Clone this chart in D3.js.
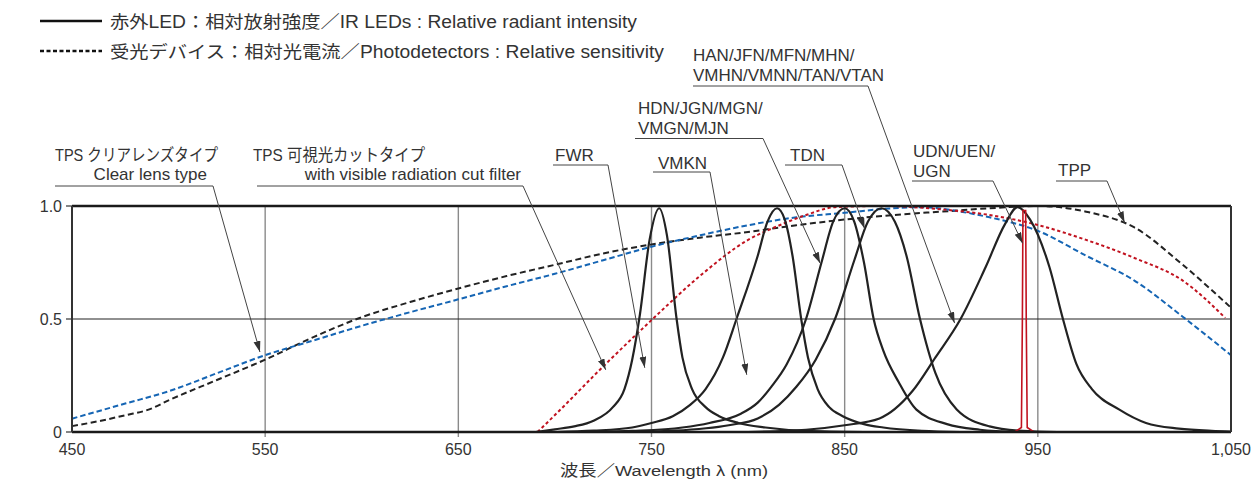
<!DOCTYPE html>
<html>
<head>
<meta charset="utf-8">
<script src="https://cdn.jsdelivr.net/npm/d3@7"></script>
<style>
  body { margin: 0; background: #fff; }
  text { font-family: "Liberation Sans", "Noto Sans CJK JP", sans-serif; fill: #333; }
</style>
</head>
<body>
<script>
(function(){

// ---- data ----
var xTicks = [450, 550, 650, 750, 850, 950, 1050];
var xTickLabels = ["450", "550", "650", "750", "850", "950", "1,050"];
var yTicks = [0, 0.5, 1];
var yTickLabels = ["0", "0.5", "1.0"];

// photodetectors (dashed)
var tppSens = [[450,0.026],[465,0.05],[478,0.075],[490,0.1],[500,0.14],[525,0.23],[550,0.32],[575,0.42],[600,0.508],[625,0.575],[650,0.635],[675,0.69],[700,0.74],[725,0.79],[750,0.83],[775,0.86],[800,0.885],[825,0.915],[850,0.94],[875,0.96],[900,0.975],[925,0.99],[950,1.0],[975,0.975],[1000,0.905],[1025,0.74],[1050,0.55]];
var tpsClearSens = [[450,0.059],[478,0.127],[500,0.18],[525,0.26],[550,0.34],[575,0.405],[600,0.47],[625,0.53],[650,0.587],[675,0.645],[700,0.7],[725,0.76],[750,0.82],[775,0.87],[800,0.915],[825,0.95],[850,0.97],[875,0.99],[890,0.995],[910,0.975],[925,0.95],[950,0.89],[975,0.78],[1000,0.67],[1025,0.51],[1050,0.34]];
var tpsCutSens = [[691,0],[700,0.075],[725,0.29],[750,0.495],[775,0.69],[800,0.85],[815,0.91],[830,0.96],[845,0.995],[870,1.0],[900,0.985],[925,0.96],[950,0.916],[975,0.85],[1000,0.77],[1025,0.67],[1047,0.505]];

// IR LEDs (solid)
var fwrLed = [[690,0],[700,0.012],[710,0.025],[720,0.05],[730,0.11],[736,0.19],[740,0.32],[744,0.52],[749,0.85],[754,0.99],[758,0.87],[763,0.5],[766,0.33],[771,0.19],[778,0.11],[785,0.07],[795,0.04],[809,0.02],[830,0.005],[860,0]];
var vmknLed = [[700,0],[720,0.006],[740,0.02],[750,0.04],[761,0.07],[770,0.12],[778,0.19],[787,0.33],[794,0.5],[805,0.78],[810,0.93],[815,0.99],[819,0.94],[823,0.78],[827.5,0.5],[831,0.33],[836,0.19],[842,0.11],[849,0.07],[860,0.035],[870,0.02],[890,0.005],[910,0]];
var hdnLed = [[720,0],[740,0.005],[766,0.02],[780,0.04],[796,0.08],[805,0.13],[812,0.2],[820,0.3],[830,0.5],[838,0.75],[844,0.93],[850,0.99],[855,0.93],[860,0.75],[865,0.5],[870,0.36],[878,0.22],[887,0.1],[903,0.035],[920,0.01],[940,0]];
var tdnLed = [[740,0],[760,0.005],[790,0.03],[805,0.06],[816,0.12],[825,0.2],[835,0.32],[845,0.5],[855,0.76],[862,0.93],[869,0.99],[876,0.93],[882,0.78],[889,0.5],[897,0.26],[908,0.1],[925,0.025],[942,0.005],[960,0]];
var hanLed = [[800,0],[830,0.01],[850,0.03],[868,0.06],[885,0.18],[897,0.33],[910,0.5],[923,0.73],[933,0.92],[939.5,0.995],[946,0.94],[956,0.73],[963,0.5],[970,0.3],[978,0.19],[992,0.1],[1006,0.04],[1023,0.015],[1040,0.005],[1050,0.002]];
var udnLed = [[915,0],[938,0],[941.5,0.02],[942,0.5],[942.3,0.98],[943.7,0.98],[944,0.5],[944.5,0.02],[948,0],[975,0]];

// callout labels and the point (nm, value) each arrow touches
var calloutText = [
  ["TPS クリアレンズタイプ", "Clear lens type"],
  ["TPS 可視光カットタイプ", "with visible radiation cut filter"],
  ["FWR"],
  ["VMKN"],
  ["HDN/JGN/MGN/", "VMGN/MJN"],
  ["TDN"],
  ["HAN/JFN/MFN/MHN/", "VMHN/VMNN/TAN/VTAN"],
  ["UDN/UEN/", "UGN"],
  ["TPP"]
];
var calloutTarget = [[547.3,0.354],[726.3,0.275],[746.5,0.284],[799.3,0.253],[837.3,0.747],[860.3,0.9],[906.9,0.482],[942.1,0.835],[994.9,0.927]];

// ---- layout ----
var width = 1255, height = 479;
var left = 72, right = 1231, top = 206, bottom = 432;

// text position per callout: x of each line, anchor, fitted width (or null), first baseline, line step, underline span and y
var calloutLayout = [
  {xs:[55, 207], anchor:["start", "end"], len:[163, null], y:161, dy:19, ux:[55, 213], uy:186},
  {xs:[253, 521], anchor:["start", "end"], len:[172, null], y:161, dy:19, ux:[257, 523], uy:186},
  {xs:[555], anchor:["start"], len:[null], y:161, dy:19, ux:[553, 608], uy:165},
  {xs:[658], anchor:["start"], len:[null], y:169, dy:19, ux:[653, 710], uy:172},
  {xs:[638, 638], anchor:["start", "start"], len:[null, null], y:114, dy:19.5, ux:[635, 763], uy:138.5},
  {xs:[790], anchor:["start"], len:[null], y:161, dy:19, ux:[785, 842], uy:165},
  {xs:[693, 693], anchor:["start", "start"], len:[null, null], y:60.5, dy:20, ux:[693, 868], uy:86},
  {xs:[913, 913], anchor:["start", "start"], len:[null, null], y:157, dy:19.5, ux:[912, 993], uy:181},
  {xs:[1058], anchor:["start"], len:[null], y:175.5, dy:19, ux:[1056, 1107], uy:181}
];

var svg = d3.select("body").append("svg")
    .attr("width", width)
    .attr("height", height);

var x = d3.scaleLinear().domain([450, 1050]).range([left, right]);
var y = d3.scaleLinear().domain([0, 1]).range([bottom, top]);

var defs = svg.append("defs");
defs.append("marker")
    .attr("id", "arrow")
    .attr("markerUnits", "userSpaceOnUse")
    .attr("markerWidth", 12).attr("markerHeight", 8)
    .attr("refX", 11).attr("refY", 3.5)
    .attr("orient", "auto")
  .append("path")
    .attr("d", "M0,0 L11,3.5 L0,7 Z")
    .attr("fill", "#333");

//vertical grid
svg.selectAll(".vgrid")
    .data(xTicks.slice(1, -1))
    .enter().append("line")
    .attr("x1", function(d){ return x(d); })
    .attr("x2", function(d){ return x(d); })
    .attr("y1", top).attr("y2", bottom + 5)
    .attr("stroke", "#8a8a8a").attr("stroke-width", 1.4);

//half line
svg.append("line")
    .attr("x1", left).attr("x2", right)
    .attr("y1", y(0.5)).attr("y2", y(0.5))
    .attr("stroke", "#222").attr("stroke-width", 1.1);

//y ticks
svg.selectAll(".ytick")
    .data(yTicks)
    .enter().append("line")
    .attr("x1", left - 6).attr("x2", left)
    .attr("y1", function(d){ return y(d); })
    .attr("y2", function(d){ return y(d); })
    .attr("stroke", "#333").attr("stroke-width", 1.2);

svg.selectAll(".ylab")
    .data(yTicks)
    .enter().append("text")
    .attr("x", left - 10)
    .attr("y", function(d){ return y(d) + 5.5; })
    .attr("text-anchor", "end")
    .attr("font-size", 16)
    .text(function(d, i){ return yTickLabels[i]; });

svg.selectAll(".xlab")
    .data(xTicks)
    .enter().append("text")
    .attr("x", function(d){ return x(d); })
    .attr("y", bottom + 23)
    .attr("text-anchor", "middle")
    .attr("font-size", 16)
    .text(function(d, i){ return xTickLabels[i]; });

svg.append("text")
    .attr("x", 560).attr("y", 476)
    .attr("font-size", 15.5)
    .attr("textLength", 208)
    .attr("lengthAdjust", "spacingAndGlyphs")
    .text("波長／Wavelength λ (nm)");

var line = d3.line()
    .x(function(d){ return x(d[0]); })
    .y(function(d){ return y(d[1]); })
    .curve(d3.curveMonotoneX);

//dashed detector curves
var dashed = [
  {data: tppSens, color: "#222", dash: "6,3.5"},
  {data: tpsClearSens, color: "#1565b4", dash: "5.5,3"},
  {data: tpsCutSens, color: "#c1121f", dash: "3.2,2.6"}
];
svg.selectAll(".sens")
    .data(dashed)
    .enter().append("path")
    .attr("d", function(d){ return line(d.data); })
    .attr("fill", "none")
    .attr("stroke", function(d){ return d.color; })
    .attr("stroke-width", 2)
    .attr("stroke-dasharray", function(d){ return d.dash; });

//LED curves
var leds = [fwrLed, vmknLed, hdnLed, tdnLed, hanLed];
svg.selectAll(".led")
    .data(leds)
    .enter().append("path")
    .attr("d", line)
    .attr("fill", "none")
    .attr("stroke", "#222")
    .attr("stroke-width", 2.2);

svg.append("path")
    .attr("d", d3.line()
        .x(function(d){ return x(d[0]); })
        .y(function(d){ return y(d[1]); })(udnLed))
    .attr("fill", "none")
    .attr("stroke", "#c1121f")
    .attr("stroke-width", 1.6);

//frame
svg.append("line").attr("x1", left).attr("x2", right).attr("y1", top).attr("y2", top)
    .attr("stroke", "#1a1a1a").attr("stroke-width", 2.5);
svg.append("line").attr("x1", left).attr("x2", right).attr("y1", bottom).attr("y2", bottom)
    .attr("stroke", "#1a1a1a").attr("stroke-width", 2.5);
svg.append("line").attr("x1", left).attr("x2", left).attr("y1", top).attr("y2", bottom)
    .attr("stroke", "#333").attr("stroke-width", 2);
svg.append("line").attr("x1", right).attr("x2", right).attr("y1", top).attr("y2", bottom)
    .attr("stroke", "#333").attr("stroke-width", 2);

//callouts
var callouts = svg.selectAll(".callout")
    .data(calloutText)
    .enter().append("g");

callouts.each(function(lines, i){
    var g = d3.select(this);
    var lay = calloutLayout[i];
    lines.forEach(function(t, j){
        var tt = g.append("text")
            .attr("x", lay.xs[j])
            .attr("y", lay.y + j * lay.dy)
            .attr("text-anchor", lay.anchor[j])
            .attr("font-size", 17)
            .text(t);
        if (lay.len[j]) tt.attr("textLength", lay.len[j]).attr("lengthAdjust", "spacingAndGlyphs");
    });
    var tx = x(calloutTarget[i][0]), ty = y(calloutTarget[i][1]);
    g.append("polyline")
        .attr("points", [[lay.ux[0], lay.uy], [lay.ux[1], lay.uy], [tx, ty]].join(" "))
        .attr("fill", "none")
        .attr("stroke", "#444")
        .attr("stroke-width", 1)
        .attr("marker-end", "url(#arrow)");
});

//legend
var legend = [
  {dash: null, len: 527, label: "赤外LED：相対放射強度／IR LEDs : Relative radiant intensity"},
  {dash: "4,2.5", len: 554, label: "受光デバイス：相対光電流／Photodetectors : Relative sensitivity"}
];
var lg = svg.selectAll(".legend")
    .data(legend)
    .enter().append("g")
    .attr("transform", function(d, i){ return "translate(40," + (21 + i * 30) + ")"; });
lg.append("line")
    .attr("x1", 0).attr("x2", 62)
    .attr("stroke", "#111").attr("stroke-width", 2.4)
    .attr("stroke-dasharray", function(d){ return d.dash; });
lg.append("text")
    .attr("x", 70).attr("y", 6.5)
    .attr("font-size", 17.5)
    .attr("textLength", function(d){ return d.len; })
    .attr("lengthAdjust", "spacingAndGlyphs")
    .text(function(d){ return d.label; });

})();
</script>
</body>
</html>
